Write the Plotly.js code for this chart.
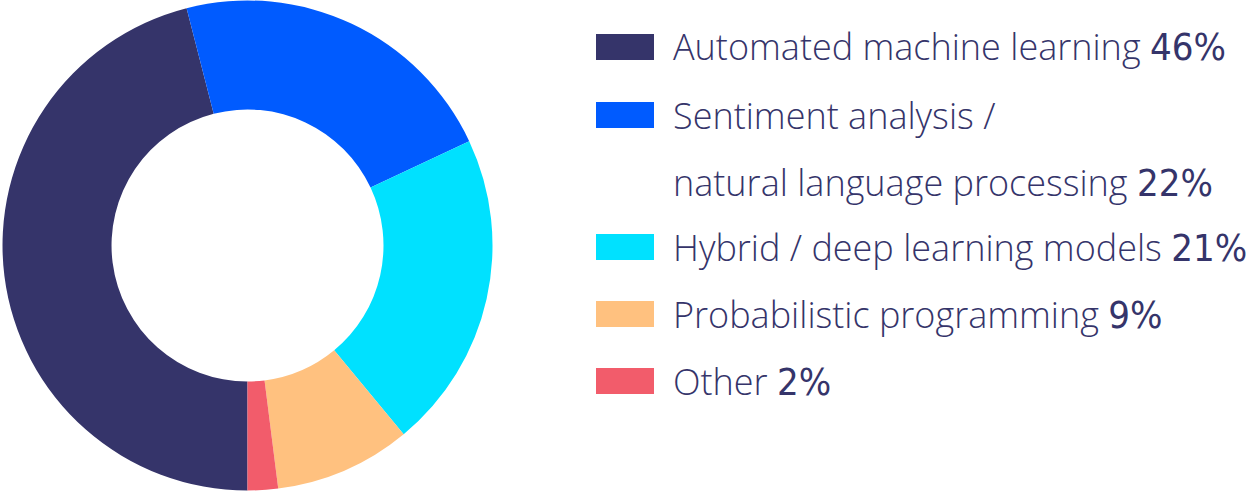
<!DOCTYPE html>
<html>
<head>
<meta charset="utf-8">
<script src="https://cdn.plot.ly/plotly-3.0.1.min.js"></script>
<style>html,body{margin:0;padding:0;background:#fff;}</style>
</head>
<body>
<div id="chart" style="width:1251px;height:494px;"></div>
<script>
const categories = ["Automated machine learning", "Sentiment analysis /<br>natural language processing", "Hybrid / deep learning models", "Probabilistic programming", "Other"];
const values = [46, 22, 21, 9, 2];
const colors = ["#35346a", "#005bff", "#00e1ff", "#ffc17f", "#f25c6b"];

const textColor = "#35346a";
const pctFont = "DejaVu Sans Condensed";

const pie = {
  type: "pie",
  labels: categories,
  values: values,
  sort: false,
  direction: "clockwise",
  rotation: 180,
  hole: 0.555,
  textinfo: "none",
  hoverinfo: "label+percent",
  marker: {colors: colors, line: {width: 0}},
  domain: {x: [0.002, 0.3937], y: [0.0071, 0.999]},
  showlegend: false
};

// Legend built from the arrays
const rowTops = [47, 115, 247, 314, 381]; // swatch centers in px from top
const shapes = [];
const annotations = [];
const H = 494, W = 1251;
categories.forEach((c, i) => {
  const yc = rowTops[i];
  shapes.push({
    type: "rect", xref: "paper", yref: "paper",
    x0: 596 / W, x1: 654 / W,
    y0: 1 - (yc + 13) / H, y1: 1 - (yc - 13) / H,
    fillcolor: colors[i], line: {width: 0}
  });
  const lines = c.split("<br>");
  const pct = ' <span style="font-family:' + pctFont + ';font-size:38px">' + values[i] + '%</span>';
  lines.forEach((ln, j) => {
    const isLast = j === lines.length - 1;
    annotations.push({
      xref: "paper", yref: "paper",
      x: 671 / W, y: 1 - (yc + j * 67) / H,
      xanchor: "left", yanchor: "middle",
      showarrow: false,
      text: ln + (isLast ? pct : ""),
      font: {family: "Open Sans, sans-serif", size: 36, color: textColor, weight: 300},
      align: "left"
    });
  });
});

const layout = {
  width: 1251, height: 494,
  margin: {l: 0, r: 0, t: 0, b: 0},
  paper_bgcolor: "#ffffff",
  plot_bgcolor: "#ffffff",
  showlegend: false,
  shapes: shapes,
  annotations: annotations
};

Plotly.newPlot("chart", [pie], layout, {displayModeBar: false, staticPlot: true});
</script>
</body>
</html>
